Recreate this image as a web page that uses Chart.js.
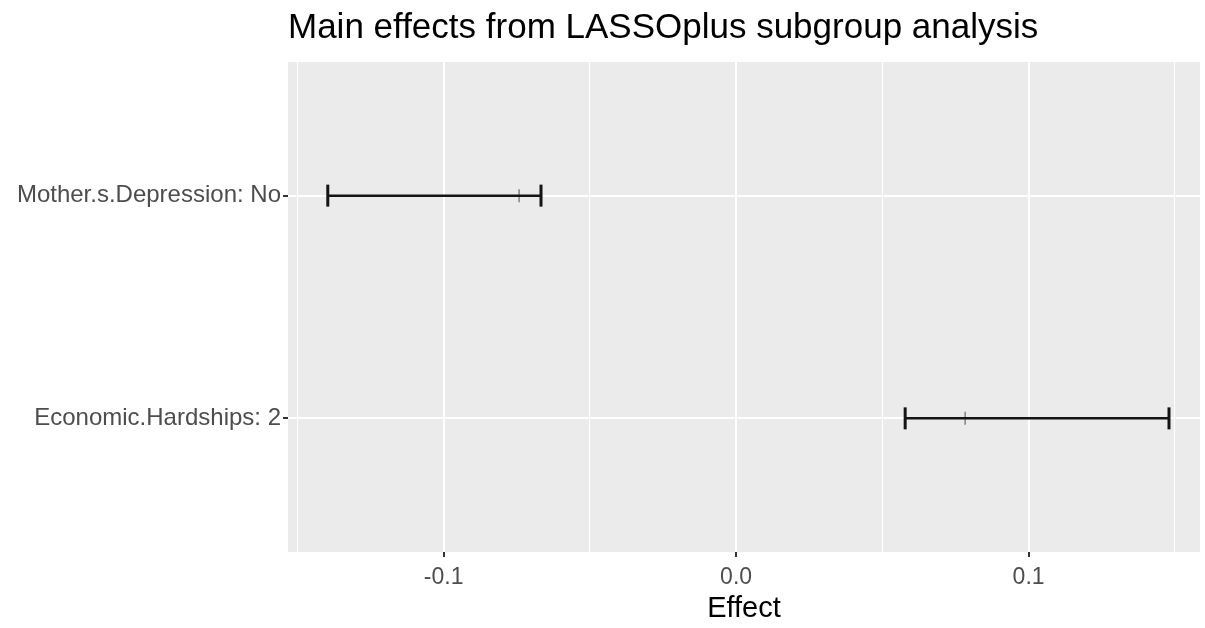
<!DOCTYPE html>
<html>
<head>
<meta charset="utf-8">
<script src="https://cdn.jsdelivr.net/npm/chart.js@4"></script>
<style>
  body { margin: 0; background: #fff; }
</style>
</head>
<body>
<canvas id="effects_chart" width="1205" height="628"></canvas>
<script>
// data
var categories = ['Economic.Hardships: 2', 'Mother.s.Depression: No'];
var rowPos = [1, 2];
var estimate = [0.0783, -0.0742];
var lower = [0.0578, -0.1396];
var upper = [0.1480, -0.0667];
var xTicks = [-0.15, -0.1, -0.05, 0, 0.05, 0.1, 0.15];
var xMajor = [-0.1, 0, 0.1];
var chartTitle = 'Main effects from LASSOplus subgroup analysis';

function isMajor(v) {
  return xMajor.some(function(m) { return Math.abs(m - v) < 1e-9; });
}

var datasets = [];
categories.forEach(function(c, i) {
  datasets.push({
    label: c,
    data: [{x: lower[i], y: rowPos[i]}, {x: upper[i], y: rowPos[i]}],
    showLine: true,
    borderColor: '#141414',
    borderWidth: 2.5,
    pointStyle: 'line',
    rotation: 90,
    pointRadius: 11,
    pointBorderColor: '#141414',
    pointBorderWidth: 3
  });
});
datasets.push({
  label: 'estimate',
  data: estimate.map(function(v, i) { return {x: v, y: rowPos[i]}; }),
  showLine: false,
  pointStyle: 'line',
  rotation: 90,
  pointRadius: 6.5,
  pointBorderColor: '#666',
  pointBorderWidth: 1.2
});

// grey panel + left aligned title
var panelPlugin = {
  id: 'panel',
  beforeDraw: function(chart) {
    var a = chart.chartArea, ctx = chart.ctx;
    ctx.save();
    ctx.fillStyle = '#EBEBEB';
    ctx.fillRect(a.left, a.top, a.right - a.left, a.bottom - a.top);
    ctx.restore();
  },
  afterDraw: function(chart) {
    var ctx = chart.ctx;
    ctx.save();
    ctx.font = '35px "Liberation Sans", Arial, sans-serif';
    ctx.fillStyle = '#000';
    ctx.textAlign = 'left';
    ctx.textBaseline = 'alphabetic';
    ctx.fillText(chartTitle, chart.chartArea.left, 38);
    ctx.restore();
  }
};

const config = {
  type: 'scatter',
  data: { datasets: datasets },
  options: {
    responsive: false,
    animation: false,
    layout: { autoPadding: false, padding: { top: 62, right: 5, left: 0, bottom: 0 } },
    plugins: {
      legend: { display: false },
      tooltip: { enabled: false }
    },
    scales: {
      x: {
        type: 'linear',
        min: -0.1532,
        max: 0.1586,
        afterBuildTicks: function(scale) {
          scale.ticks = xTicks.map(function(v) { return {value: v}; });
        },
        afterFit: function(scale) {
          scale.height = 76;
          scale.paddingLeft = 0;
          scale.paddingRight = 0;
        },
        border: { display: false },
        grid: {
          color: '#fff',
          lineWidth: function(ctx) { return ctx.tick && isMajor(ctx.tick.value) ? 2 : 1; },
          tickColor: function(ctx) { return ctx.tick && isMajor(ctx.tick.value) ? '#333' : 'rgba(0,0,0,0)'; },
          tickWidth: 2,
          tickLength: 5
        },
        ticks: {
          autoSkip: false,
          maxRotation: 0,
          padding: 7,
          color: '#4D4D4D',
          font: { family: '"Liberation Sans", Arial, sans-serif', size: 23 },
          callback: function(v) { return isMajor(v) ? v.toFixed(1) : ''; }
        },
        title: {
          display: true,
          text: 'Effect',
          color: '#000',
          font: { family: '"Liberation Sans", Arial, sans-serif', size: 29 },
          padding: { top: 0, bottom: 2 }
        }
      },
      y: {
        type: 'linear',
        min: 0.4,
        max: 2.6,
        afterBuildTicks: function(scale) {
          scale.ticks = rowPos.map(function(v) { return {value: v}; });
        },
        afterFit: function(scale) { scale.width = 288; },
        border: { display: false },
        grid: {
          color: '#fff',
          lineWidth: 2,
          tickColor: '#333',
          tickWidth: 2,
          tickLength: 5
        },
        ticks: {
          padding: 2,
          color: '#4D4D4D',
          font: { family: '"Liberation Sans", Arial, sans-serif', size: 24 },
          callback: function(v) {
            var i = rowPos.indexOf(v);
            return i >= 0 ? categories[i] : '';
          }
        }
      }
    }
  },
  plugins: [panelPlugin]
};

window.onload = function() {
  var ctx = document.getElementById('effects_chart').getContext('2d');
  window.effectsChart = new Chart(ctx, config);
};
</script>
</body>
</html>
